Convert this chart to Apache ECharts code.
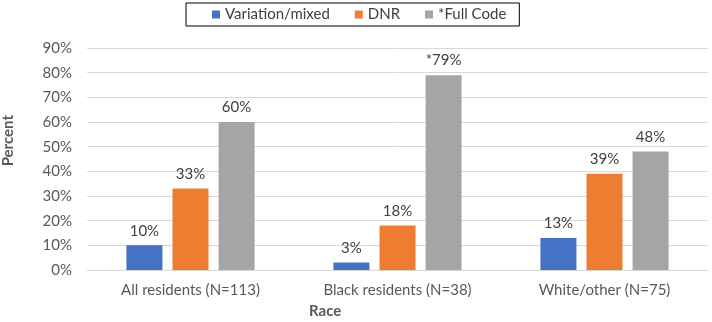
<!DOCTYPE html>
<html>
<head><meta charset="utf-8"></head>
<script type="text/javascript" src="https://cdn.jsdelivr.net/npm/echarts@6/dist/echarts.min.js"></script>
<body style="margin:0;background-color:white;">
    <div id="main" style="width:712px;height:322px;"></div>
</body>
<script>
var categories = ['All residents (N=113)', 'Black residents (N=38)', 'White/other (N=75)'];
var variation = [10, 3, 13];
var dnr = [33, 18, 39];
var fullCode = [60, 79, 48];
var fullCodeMark = ['', '*', ''];   // significance marker
var yTicks = [0, 90, 10];           // min, max, interval

var font = 'Lato';

var myChart = echarts.init(document.getElementById('main'));

function barLabel(marks) {
    return {
        show: true,
        position: 'top',
        distance: 7,
        color: '#404040',
        fontSize: 15,
        fontFamily: font,
        formatter: function (p) {
            return (marks ? marks[p.dataIndex] : '') + p.value + '%';
        }
    };
}

var option = {
    animation: false,
    textStyle: { fontFamily: font },
    legend: {
        left: 186,
        top: 3,
        padding: [4, 13, 4, 26],
        itemGap: 25,
        itemWidth: 8,
        itemHeight: 8,
        icon: 'rect',
        borderColor: '#000',
        borderWidth: 1,
        textStyle: { color: '#404040', fontSize: 15, fontFamily: font },
        data: ['Variation/mixed', 'DNR', '*Full Code']
    },
    grid: { left: 87, right: 4, top: 48, bottom: 52 },
    xAxis: {
        type: 'category',
        data: categories,
        axisTick: { show: false },
        axisLine: { lineStyle: { color: '#d9d9d9' } },
        axisLabel: { color: '#595959', fontSize: 15, margin: 13, fontFamily: font }
    },
    yAxis: {
        type: 'value',
        min: yTicks[0],
        max: yTicks[1],
        interval: yTicks[2],
        axisLine: { show: false },
        axisTick: { show: false },
        splitLine: { lineStyle: { color: '#d9d9d9' } },
        axisLabel: { color: '#595959', fontSize: 15, margin: 15, formatter: '{value}%', fontFamily: font }
    },
    graphic: [
        {
            type: 'text', left: 1, top: 115, rotation: Math.PI / 2,
            style: { text: 'Percent', fill: '#595959', font: 'bold 15px ' + font }
        },
        {
            type: 'text', left: 309, top: 304,
            style: { text: 'Race', fill: '#595959', font: 'bold 15px ' + font }
        }
    ],
    series: [
        { name: 'Variation/mixed', type: 'bar', data: variation, barWidth: 36, barGap: '28%',
          itemStyle: { color: '#4472C4' }, label: barLabel() },
        { name: 'DNR', type: 'bar', data: dnr, barWidth: 36, barGap: '28%',
          itemStyle: { color: '#ED7D31' }, label: barLabel() },
        { name: '*Full Code', type: 'bar', data: fullCode, barWidth: 36, barGap: '28%',
          itemStyle: { color: '#A5A5A5' }, label: barLabel(fullCodeMark) }
    ]
};

option && myChart.setOption(option);
</script>
</html>
